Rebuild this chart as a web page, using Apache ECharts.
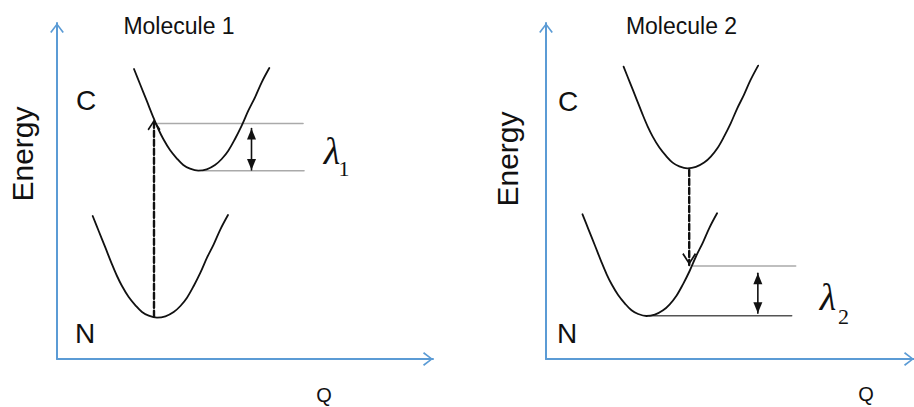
<!DOCTYPE html>
<html>
<head>
<meta charset="utf-8">
<script src="https://cdn.jsdelivr.net/npm/echarts@6/dist/echarts.min.js"></script>
<style>
html,body{margin:0;padding:0;background:#ffffff;}
#chart{width:914px;height:407px;}
</style>
</head>
<body>
<div id="chart"></div>
<script>
// ---- Data (Q, Energy), in panel units ----
// Molecule 1
const m1ChargedCurve = [[77,290],[83,275],[89.7,258.3],[96.3,241.7],[101.3,230],[106.3,220],[113,209],[119.7,200.7],[126.3,194],[133,190.3],[141.3,188.3],[149.7,189.7],[158,194],[164.7,200],[171.3,208.3],[178,220],[184.7,233.3],[191.3,248.3],[198,261.7],[204.7,276.7],[212.3,291]];
const m1NeutralCurve = [[35.7,143],[41.7,128],[48.4,111.3],[55,94.7],[60,83],[65,73],[71.7,62],[78.4,53.7],[85,47],[91.7,43.3],[100,41.3],[108.4,42.7],[116.7,47],[123.4,53],[130,61.3],[136.7,73],[143.4,86.3],[150,101.3],[156.7,114.7],[163.4,129.7],[171,144]];
const m1Excitation = [[97,42.3],[97,239.5]];
const m1UpperLevel = [[100.5,235.5],[246,235.5]];
const m1LowerLevel = [[146,188.3],[247,188.3]];
const m1Lambda = [[194.5,230.5],[194.5,189]];
// Molecule 2
const m2ChargedCurve = [[78,292.4],[84,277.4],[90.7,260.7],[97.3,244.1],[102.3,232.4],[107.3,222.4],[114,211.4],[120.7,203.1],[127.3,196.4],[134,192.7],[142.3,190.7],[150.7,192.1],[159,196.4],[165.7,202.4],[172.3,210.7],[179,222.4],[185.7,235.7],[192.3,250.7],[199,264.1],[205.7,279.1],[213.3,293.4]];
const m2NeutralCurve = [[36.7,144.7],[42.7,129.7],[49.4,113],[56,96.4],[61,84.7],[66,74.7],[72.7,63.7],[79.4,55.4],[86,48.7],[92.7,45],[101,43],[109.4,44.4],[117.7,48.7],[124.4,54.7],[131,63],[137.7,74.7],[144.4,88],[151,103],[157.7,116.4],[164.4,131.4],[172,145.7]];
const m2Relaxation = [[144,189],[144,94]];
const m2UpperLevel = [[148,93],[251,93]];
const m2LowerLevel = [[104,43.3],[247,43.3]];
const m2Lambda = [[213,85.7],[213,45.7]];
// Axis ranges
const qMax = [376, 370];
const energyMax = [336, 336];
// Texts
const panelTitles = ['Molecule 1', 'Molecule 2'];
const yAxisTitle = 'Energy';
const xAxisTitle = 'Q';
const stateLabels = ['C', 'N'];
const lambdaSubs = ['1', '2'];

// ---- Styling ----
const AXIS_BLUE = '#5B9BD5';
const INK = '#111111';
const SANS = '"Liberation Sans", Arial, Helvetica, sans-serif';
const SERIF = '"Liberation Serif", "Times New Roman", serif';
const CHEVRON_UP = 'path://M0,13L10,0L20,13L18,14.5L10,3.5L2,14.5Z';
const CHEVRON_DOWN = 'path://M0,1.5L10,14.5L20,1.5L18,0L10,11L2,0Z';
const TRI_UP = 'path://M5,0L10,11L0,11Z';
const TRI_DOWN = 'path://M0,0L10,0L5,11Z';

function axis(gi, max) {
  return {
    type: 'value', gridIndex: gi, min: 0, max: max,
    axisLine: {
      show: true, onZero: false,
      symbol: ['none', CHEVRON_UP], symbolSize: [14, 10], symbolOffset: [0, -5],
      lineStyle: { color: AXIS_BLUE, width: 2 }
    },
    axisTick: { show: false }, axisLabel: { show: false }, splitLine: { show: false }
  };
}
function line(gi, data, color, width, type, smooth) {
  return {
    type: 'line', xAxisIndex: gi, yAxisIndex: gi, data: data,
    smooth: smooth ? 0.35 : false, showSymbol: false, symbol: 'none', silent: true,
    lineStyle: { color: color, width: width, type: type || 'solid', cap: 'round', join: 'round' },
    emphasis: { disabled: true }, z: 3
  };
}
function head(gi, point, symbol, size, up) {
  return {
    type: 'scatter', xAxisIndex: gi, yAxisIndex: gi, data: [point], silent: true,
    symbol: symbol, symbolSize: size, symbolKeepAspect: false,
    symbolOffset: [0, up ? '50%' : '-50%'],
    itemStyle: { color: INK, opacity: 1 }, emphasis: { disabled: true }, z: 5
  };
}
function text(x, y, str, font, rot) {
  return {
    type: 'text', x: x, y: y, rotation: rot || 0, silent: true,
    style: { text: str, font: font, fill: INK, align: 'center', verticalAlign: 'middle',
             textAlign: 'center', textVerticalAlign: 'middle' }
  };
}

const chart = echarts.init(document.getElementById('chart'), null, { renderer: 'svg' });
chart.setOption({
  animation: false,
  backgroundColor: '#ffffff',
  grid: [
    { left: 57, top: 23, width: 376, height: 336 },
    { left: 546, top: 23, width: 370, height: 336 }
  ],
  xAxis: [axis(0, qMax[0]), axis(1, qMax[1])],
  yAxis: [axis(0, energyMax[0]), axis(1, energyMax[1])],
  series: [
    line(0, m1UpperLevel, '#aaaaaa', 1.6),
    line(0, m1LowerLevel, '#aaaaaa', 1.6),
    line(0, m1ChargedCurve, INK, 1.8, 'solid', true),
    line(0, m1NeutralCurve, INK, 1.8, 'solid', true),
    line(0, m1Excitation, INK, 2.4, [6, 3]),
    line(0, m1Lambda, INK, 1.6),
    head(0, m1Excitation[1], CHEVRON_UP, [13, 11], true),
    head(0, m1Lambda[0], TRI_UP, [9, 11], true),
    head(0, m1Lambda[1], TRI_DOWN, [9, 11], false),

    line(1, m2UpperLevel, '#aaaaaa', 1.6),
    line(1, m2LowerLevel, '#555555', 1.6),
    line(1, m2ChargedCurve, INK, 1.8, 'solid', true),
    line(1, m2NeutralCurve, INK, 1.8, 'solid', true),
    line(1, m2Relaxation, INK, 2.4, [6, 3]),
    line(1, m2Lambda, INK, 1.6),
    head(1, m2Relaxation[1], CHEVRON_DOWN, [14, 12], false),
    head(1, m2Lambda[0], TRI_UP, [9, 11], true),
    head(1, m2Lambda[1], TRI_DOWN, [9, 11], false)
  ],
  graphic: [
    text(179, 26, panelTitles[0], '23px ' + SANS),
    text(681.5, 26, panelTitles[1], '23px ' + SANS),
    text(22.5, 154, yAxisTitle, '30px ' + SANS, Math.PI / 2),
    text(507.5, 159, yAxisTitle, '30px ' + SANS, Math.PI / 2),
    text(86, 100, stateLabels[0], '28px ' + SANS),
    text(85, 333, stateLabels[1], '28px ' + SANS),
    text(568, 101, stateLabels[0], '28px ' + SANS),
    text(567, 333, stateLabels[1], '28px ' + SANS),
    text(324, 395, xAxisTitle, '20px ' + SANS),
    text(866, 394, xAxisTitle, '20px ' + SANS),
    text(332, 151, 'λ', 'italic 38px ' + SERIF),
    text(344, 168, lambdaSubs[0], '22px ' + SERIF),
    text(828, 297, 'λ', 'italic 38px ' + SERIF),
    text(843.5, 316, lambdaSubs[1], '22px ' + SERIF)
  ]
});
</script>
</body>
</html>
